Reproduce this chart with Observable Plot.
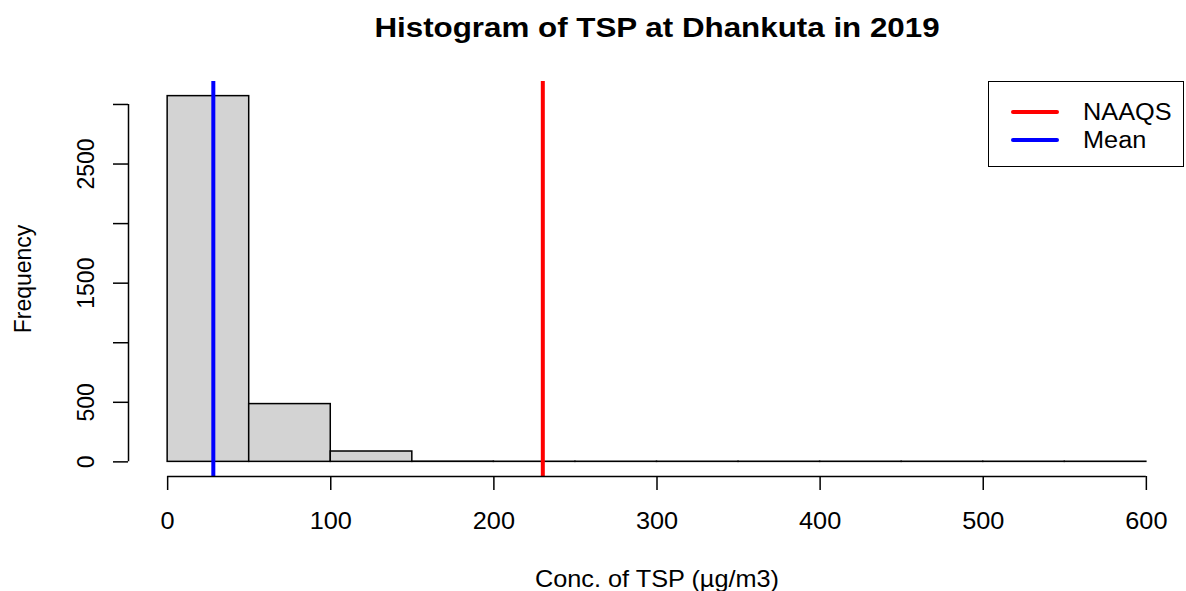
<!DOCTYPE html>
<html>
<head>
<meta charset="utf-8">
<script src="https://cdn.jsdelivr.net/npm/d3@7"></script>
<script src="https://cdn.jsdelivr.net/npm/@observablehq/plot@0.6"></script>
<style>
  html, body { margin: 0; padding: 0; background: white; }
  #wrap { position: relative; width: 1186px; height: 591px; font-family: "Liberation Sans", Arial, sans-serif; }
  #legend { position: absolute; left: 988px; top: 81px; width: 196px; height: 86px; box-sizing: border-box; border: 1.5px solid #000; background: white; }
  .lg-line { position: absolute; left: 22px; width: 48px; height: 4px; border-radius: 2px; }
  .lg-text { position: absolute; left: 94px; font-size: 23px; line-height: 23px; color: #000; white-space: nowrap; transform: scaleX(1.1); transform-origin: left center; }
</style>
</head>
<body>
<div id="wrap"></div>
<script>
// ---- data ----
const title = "Histogram of TSP at Dhankuta in 2019";
const xLabel = "Conc. of TSP (µg/m3)";
const yLabel = "Frequency";
const breaks = [0, 50, 100, 150, 200, 250, 300, 350, 400, 450, 500, 550, 600];
const counts = [3070, 485, 87, 2, 1, 1, 1, 1, 1, 1, 1, 1];
const xTicks = [0, 100, 200, 300, 400, 500, 600];
const yTicks = [0, 500, 1000, 1500, 2000, 2500, 3000];
const yTickLabels = ["0", "500", "", "1500", "", "2500", ""];
const meanTSP = 28;
const naaqsTSP = 230;
const legendNames = ["NAAQS", "Mean"];
const legendColors = ["red", "blue"];

// ---- derived tables ----
const bins = counts.map((c, i) => ({x1: breaks[i], x2: breaks[i + 1], count: c}));
const yTickTable = yTicks.map((v, i) => ({v, label: yTickLabels[i]}));
const ext = (lo, hi) => [lo - 0.04 * (hi - lo), hi + 0.04 * (hi - lo)];
const xDomain = ext(d3.min(breaks), d3.max(breaks));
const yDomain = ext(0, d3.max(counts));

const chart = Plot.plot({
  width: 1186,
  height: 591,
  marginLeft: 128,
  marginRight: 1,
  marginTop: 81,
  marginBottom: 115,
  style: {fontFamily: '"Liberation Sans", Arial, sans-serif', fontSize: "23px", background: "white", color: "#000"},
  x: {domain: xDomain, axis: null},
  y: {domain: yDomain, axis: null},
  marks: [
    Plot.rectY(bins, {x1: "x1", x2: "x2", y: "count", fill: "#d3d3d3", stroke: "#000", strokeWidth: 1.5, inset: 0}),
    Plot.ruleX([meanTSP], {stroke: "blue", strokeWidth: 4}),
    Plot.ruleX([naaqsTSP], {stroke: "red", strokeWidth: 4}),
    // x axis
    Plot.ruleY([yDomain[0]], {x1: d3.min(xTicks), x2: d3.max(xTicks), stroke: "#000", strokeWidth: 1.5}),
    Plot.axisX({ticks: xTicks, tickSize: 14, tickPadding: 22, fontSize: 23, strokeWidth: 1.5, label: null, tickFormat: d => String(d)}),
    // y axis
    Plot.ruleX([xDomain[0]], {y1: d3.min(yTicks), y2: d3.max(yTicks), stroke: "#000", strokeWidth: 1.5}),
    Plot.axisY({ticks: yTicks, tickSize: 15, strokeWidth: 1.5, label: null, tickFormat: () => ""}),
    Plot.text(yTickTable, {y: "v", text: "label", frameAnchor: "left", dx: -35, rotate: -90, lineAnchor: "bottom", textAnchor: "middle", fontSize: 23}),
    // labels
    Plot.text([yLabel], {text: d => d, frameAnchor: "left", dx: -98, rotate: -90, lineAnchor: "bottom", textAnchor: "middle", fontSize: 23}),
    Plot.text([xLabel], {text: d => d, frameAnchor: "bottom", dy: 110, lineAnchor: "bottom", textAnchor: "middle", fontSize: 23}),
    Plot.text([title], {text: d => d, frameAnchor: "top", dy: -45, lineAnchor: "bottom", textAnchor: "middle", fontSize: 27.5, fontWeight: "bold", className: "main-title"})
  ]
});

// the reference's lettering is slightly wider than the font: stretch horizontal texts
d3.select(chart).selectAll("text").each(function () {
  const t = this.getAttribute("transform");
  if (!t || t.includes("rotate")) return;
  const isTitle = this.closest(".main-title") !== null || this.getAttribute("font-weight") === "bold" || (this.parentNode && this.parentNode.getAttribute && this.parentNode.getAttribute("font-weight") === "bold");
  this.setAttribute("transform", t + (isTitle ? " scale(1.14,1)" : " scale(1.1,1)"));
});

const wrap = document.getElementById("wrap");
wrap.appendChild(chart);

// legend
const legend = document.createElement("div");
legend.id = "legend";
const rowsY = [27.5, 56];
const textTop = [18.5, 46.5];
legendNames.forEach((name, i) => {
  const ln = document.createElement("div");
  ln.className = "lg-line";
  ln.style.top = rowsY[i] + "px";
  ln.style.background = legendColors[i];
  legend.appendChild(ln);
  const tx = document.createElement("div");
  tx.className = "lg-text";
  tx.style.top = textTop[i] + "px";
  tx.textContent = name;
  legend.appendChild(tx);
});
wrap.appendChild(legend);
</script>
</body>
</html>
